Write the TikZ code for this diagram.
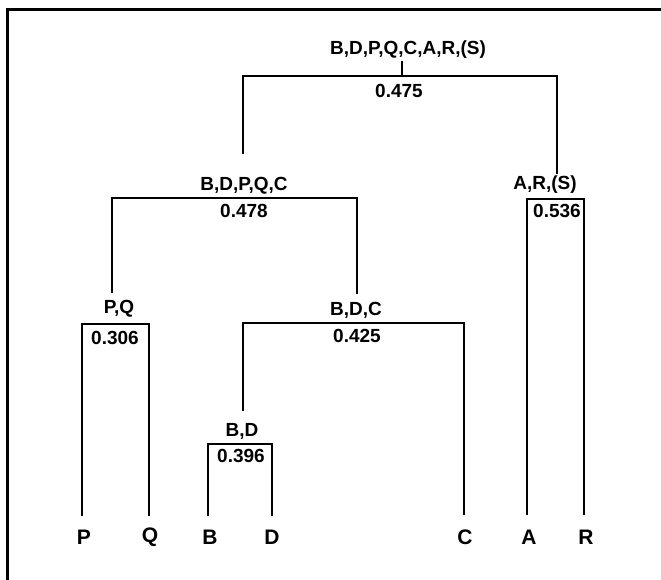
\documentclass[tikz,border=0pt]{standalone}
\usepackage{fontspec}
\setmainfont{Liberation Sans}
\begin{document}
\begin{tikzpicture}[x=1pt,y=-1pt,
  lbl/.style={font=\fontsize{19}{20}\selectfont\bfseries, inner sep=0pt},
  leaf/.style={font=\fontsize{21}{22}\selectfont\bfseries, inner sep=0pt},
  tree/.style={line width=2.4pt, line cap=rect},
  frameline/.style={line width=3pt}]
\useasboundingbox (0,0) rectangle (661,580);
% frame
\coordinate (fBL) at (7,581);
\coordinate (fTL) at (7,10);
\coordinate (fTR) at (662,10);
\draw[frameline] (fBL) -- (fTL) -- (fTR);

% labels
\node[lbl] (root) at (408,50) {B,D,P,Q,C,A,R,(S)};
\node[lbl] (rootv) at (399,91) {0.475};
\node[lbl] (bdpqc) at (244,186) {B,D,P,Q,C};
\node[lbl] (bdpqcv) at (244,211) {0.478};
\node[lbl] (ars) at (545,185) {A,R,(S)};
\node[lbl] (arsv) at (557,211) {0.536};
\node[lbl] (pq) at (119,309) {P,Q};
\node[lbl] (pqv) at (115,338) {0.306};
\node[lbl] (bdc) at (356,310) {B,D,C};
\node[lbl] (bdcv) at (357,336) {0.425};
\node[lbl] (bd) at (242,431) {B,D};
\node[lbl] (bdv) at (241,456) {0.396};

% leaves
\node[leaf] (P) at (84,537) {P};
\node[leaf] (Q) at (150,537) {Q};
\node[leaf] (B) at (210,537) {B};
\node[leaf] (D) at (272,537) {D};
\node[leaf] (C) at (465,537) {C};
\node[leaf] (A) at (529,537) {A};
\node[leaf] (R) at (586,537) {R};

% bar corners and line ends
\coordinate (rootT) at (402,62);
\coordinate (rootM) at (402,76);
\coordinate (rootL) at (243,76);
\coordinate (rootR) at (557,76);
\coordinate (rootLe) at (243,153);
\coordinate (rootRe) at (557,173);

\coordinate (bdpqcL) at (112,198);
\coordinate (bdpqcR) at (357,198);
\coordinate (bdpqcLe) at (112,292);
\coordinate (bdpqcRe) at (357,293);

\coordinate (pqL) at (82,324);
\coordinate (pqR) at (149,324);
\coordinate (Pe) at (82,515);
\coordinate (Qe) at (149,515);

\coordinate (bdcL) at (243,323);
\coordinate (bdcR) at (464,323);
\coordinate (bdcLe) at (243,410);
\coordinate (Ce) at (464,514);

\coordinate (bdL) at (208,444);
\coordinate (bdR) at (272,444);
\coordinate (Be) at (208,515);
\coordinate (De) at (272,515);

\coordinate (arsL) at (527,199);
\coordinate (arsR) at (584,199);
\coordinate (Ae) at (527,514);
\coordinate (Re) at (584,514);

% connectors
\draw[tree] (rootT) -- (rootM);
\draw[tree] (rootLe) -- (rootL) -- (rootR) -- (rootRe);
\draw[tree] (bdpqcLe) -- (bdpqcL) -- (bdpqcR) -- (bdpqcRe);
\draw[tree] (Pe) -- (pqL) -- (pqR) -- (Qe);
\draw[tree] (bdcLe) -- (bdcL) -- (bdcR) -- (Ce);
\draw[tree] (Be) -- (bdL) -- (bdR) -- (De);
\draw[tree] (Ae) -- (arsL) -- (arsR) -- (Re);
\end{tikzpicture}
\end{document}
